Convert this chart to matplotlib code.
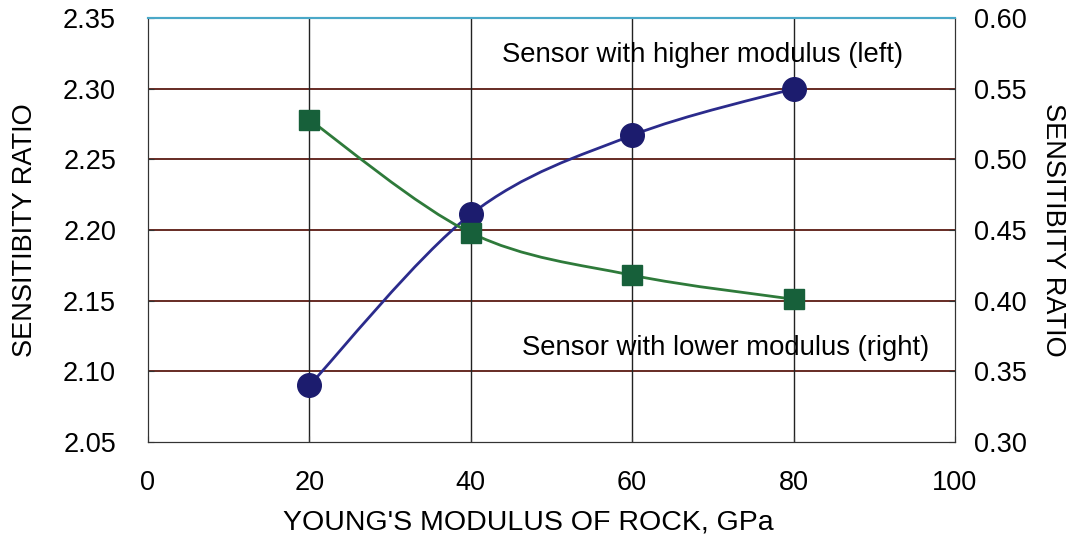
import numpy as np
import matplotlib.pyplot as plt
from matplotlib.path import Path
from matplotlib.patches import PathPatch

# data
modulus = [20, 40, 60, 80]
ratio_high = [2.090, 2.211, 2.267, 2.300]   # left axis, circles
ratio_low = [0.528, 0.448, 0.418, 0.401]    # right axis, squares

left_ticks = [2.05, 2.10, 2.15, 2.20, 2.25, 2.30, 2.35]
right_ticks = [0.30, 0.35, 0.40, 0.45, 0.50, 0.55, 0.60]
x_ticks = [0, 20, 40, 60, 80, 100]

plt.rcParams['font.family'] = ['Liberation Sans', 'DejaVu Sans']


def smooth_path(x, y):
    # excel-like smoothed line (catmull-rom as bezier segments)
    pts = np.column_stack([x, y]).astype(float)
    n = len(pts)
    verts = [pts[0]]
    codes = [Path.MOVETO]
    for i in range(n - 1):
        p0 = pts[max(i - 1, 0)]
        p1 = pts[i]
        p2 = pts[i + 1]
        p3 = pts[min(i + 2, n - 1)]
        verts += [p1 + (p2 - p0) / 6, p2 - (p3 - p1) / 6, p2]
        codes += [Path.CURVE4] * 3
    return Path(verts, codes)


fig = plt.figure(figsize=(10.7, 5.34), dpi=100)
ax = fig.add_axes([0.1383, 0.1723, 0.7542, 0.794])
ax2 = ax.twinx()

ax.set_xlim(0, 100)
ax.set_ylim(2.05, 2.35)
ax2.set_ylim(0.30, 0.60)
ax.set_xticks(x_ticks)
ax.set_yticks(left_ticks)
ax2.set_yticks(right_ticks)
ax.set_yticklabels(['%.2f' % v for v in left_ticks])
ax2.set_yticklabels(['%.2f' % v for v in right_ticks])

# grid
for v in left_ticks[1:-1]:
    ax.axhline(v, color='#5a1a12', lw=1.3, zorder=1)
for v in x_ticks[1:-1]:
    ax.axvline(v, color='#222222', lw=1.0, zorder=1)

for s in ['left', 'bottom', 'right']:
    ax.spines[s].set_color('#333333')
    ax2.spines[s].set_color('#333333')
ax.spines['top'].set_color('#4aa8c8')
ax2.spines['top'].set_color('#4aa8c8')
ax.spines['top'].set_linewidth(1.5)
ax2.spines['top'].set_linewidth(1.5)

ax.tick_params(direction='in', length=4, labelsize=19.5, color='#333333')
ax.tick_params(axis='y', pad=23)
ax.tick_params(axis='x', pad=20)
ax2.tick_params(direction='in', length=4, labelsize=19.5, pad=14, color='#333333')

# curves
ax.add_patch(PathPatch(smooth_path(modulus, ratio_high), fill=False,
                       edgecolor='#2b2b8c', lw=2, zorder=3))
ax.plot(modulus, ratio_high, 'o', ms=17, color='#1c1c6e', zorder=4)
ax2.add_patch(PathPatch(smooth_path(modulus, ratio_low), fill=False,
                        edgecolor='#2e7a3a', lw=2, zorder=3))
ax2.plot(modulus, ratio_low, 's', ms=15, color='#17603a', zorder=4)

ax.text(43.9, 2.324, 'Sensor with higher modulus (left)', fontsize=19.8,
        va='center', ha='left')
ax.text(46.3, 2.1165, 'Sensor with lower modulus (right)', fontsize=19.8,
        va='center', ha='left')

ax.set_xlabel("YOUNG'S MODULUS OF ROCK, GPa", fontsize=20.5, labelpad=10)
ax.xaxis.label.set_x(0.471)
ax.set_ylabel('SENSITIBITY RATIO', fontsize=19.5, labelpad=18)
ax2.set_ylabel('SENSITIBITY RATIO', fontsize=19.5, rotation=-90, labelpad=28)

fig.savefig('out.png', dpi=100)
